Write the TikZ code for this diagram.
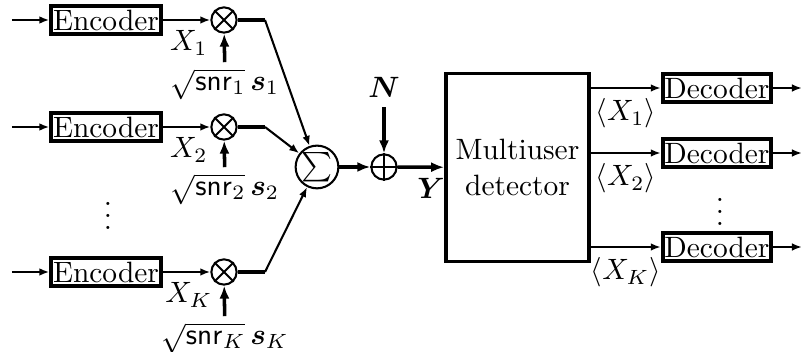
\documentclass[tikz,border=0pt]{standalone}
\usepackage{amsmath}
\usepackage{tikz}
\usetikzlibrary{arrows.meta,positioning}

\begin{document}
\begin{tikzpicture}[x=0.34pt,y=-0.34pt,
  blk/.style={draw,line width=1.3pt,inner sep=0.6pt,minimum height=9.6pt},
  op/.style={draw,circle,line width=0.7pt,inner sep=0pt,minimum size=8.6pt},
  sig/.style={line width=0.7pt,-{Latex[length=3.4pt,width=2.6pt]}},
  bus/.style={line width=1.2pt},
  busarr/.style={line width=1.2pt,-{Latex[length=4.4pt,width=3.4pt]}}]
  \useasboundingbox (0,0) rectangle (804,352);
  % transmitters
  \coordinate (in1) at (12,20);
  \coordinate (in2) at (12,127);
  \coordinate (inK) at (12,272);
  \node[blk] (enc1) at (106,20) {Encoder};
  \node[blk] (enc2) at (106,127) {Encoder};
  \node[blk] (encK) at (106,272) {Encoder};
  \node (dotsL) at (108,207) {$\vdots$};
  \node[op] (mul1) at (224,20) {};
  \node[op] (mul2) at (224,127) {};
  \node[op] (mulK) at (224,272) {};
  \draw[line width=0.7pt] (mul1.north west) -- (mul1.south east) (mul1.north east) -- (mul1.south west);
  \draw[line width=0.7pt] (mul2.north west) -- (mul2.south east) (mul2.north east) -- (mul2.south west);
  \draw[line width=0.7pt] (mulK.north west) -- (mulK.south east) (mulK.north east) -- (mulK.south west);
  \node[inner sep=2pt] (snr1) at (225,84) {$\sqrt{\mathsf{snr}_1}\,\boldsymbol{s}_1$};
  \node[inner sep=2pt] (snr2) at (225,189) {$\sqrt{\mathsf{snr}_2}\,\boldsymbol{s}_2$};
  \node[inner sep=2pt] (snrK) at (225,338) {$\sqrt{\mathsf{snr}_K}\,\boldsymbol{s}_K$};
  \coordinate (b1) at (265,20);
  \coordinate (b2) at (265,127);
  \coordinate (bK) at (265,272);
  % channel
  \node[op,minimum size=13pt] (sum) at (317,167) {$\sum$};
  \node[op] (add) at (384,167) {};
  \draw[line width=0.7pt] (add.north) -- (add.south) (add.west) -- (add.east);
  \node (noise) at (384,87) {$\boldsymbol{N}$};
  % receiver
  \node[draw,line width=1.2pt,minimum width=46pt,minimum height=64pt,align=center] (det) at (517.5,167.5) {Multiuser\\detector};
  \node[blk] (dec1) at (717,88) {Decoder};
  \node[blk] (dec2) at (717,153) {Decoder};
  \node[blk] (decK) at (717,247) {Decoder};
  \node (dotsR) at (720,203) {$\vdots$};
  \coordinate (out1) at (802,88);
  \coordinate (out2) at (802,153);
  \coordinate (outK) at (802,247);

  \draw[sig] (in1) -- (enc1);
  \draw[sig] (in2) -- (enc2);
  \draw[sig] (inK) -- (encK);
  \draw[sig] (enc1) -- node[below,pos=0.55]{$X_1$} (mul1);
  \draw[sig] (enc2) -- node[below,pos=0.55]{$X_2$} (mul2);
  \draw[sig] (encK) -- node[below,pos=0.55]{$X_K$} (mulK);
  \draw[busarr] (snr1) -- (mul1);
  \draw[busarr] (snr2) -- (mul2);
  \draw[busarr] (snrK) -- (mulK);
  \draw[bus] (mul1) -- (b1);
  \draw[bus] (mul2) -- (b2);
  \draw[bus] (mulK) -- (bK);
  \draw[sig] (b1) -- (sum);
  \draw[sig] (b2) -- (sum);
  \draw[sig] (bK) -- (sum);
  \draw[busarr] (sum) -- (add);
  \draw[busarr] (noise) -- (add);
  \draw[busarr] (add) -- node[pos=0.72,below]{$\boldsymbol{Y}$} (det);
  \draw[sig] (det.east |- dec1) -- node[below]{$\langle X_1\rangle$} (dec1);
  \draw[sig] (det.east |- dec2) -- node[below]{$\langle X_2\rangle$} (dec2);
  \draw[sig] (det.east |- decK) -- node[below]{$\langle X_K\rangle$} (decK);
  \draw[sig] (dec1) -- (out1);
  \draw[sig] (dec2) -- (out2);
  \draw[sig] (decK) -- (outK);
\end{tikzpicture}
\end{document}
